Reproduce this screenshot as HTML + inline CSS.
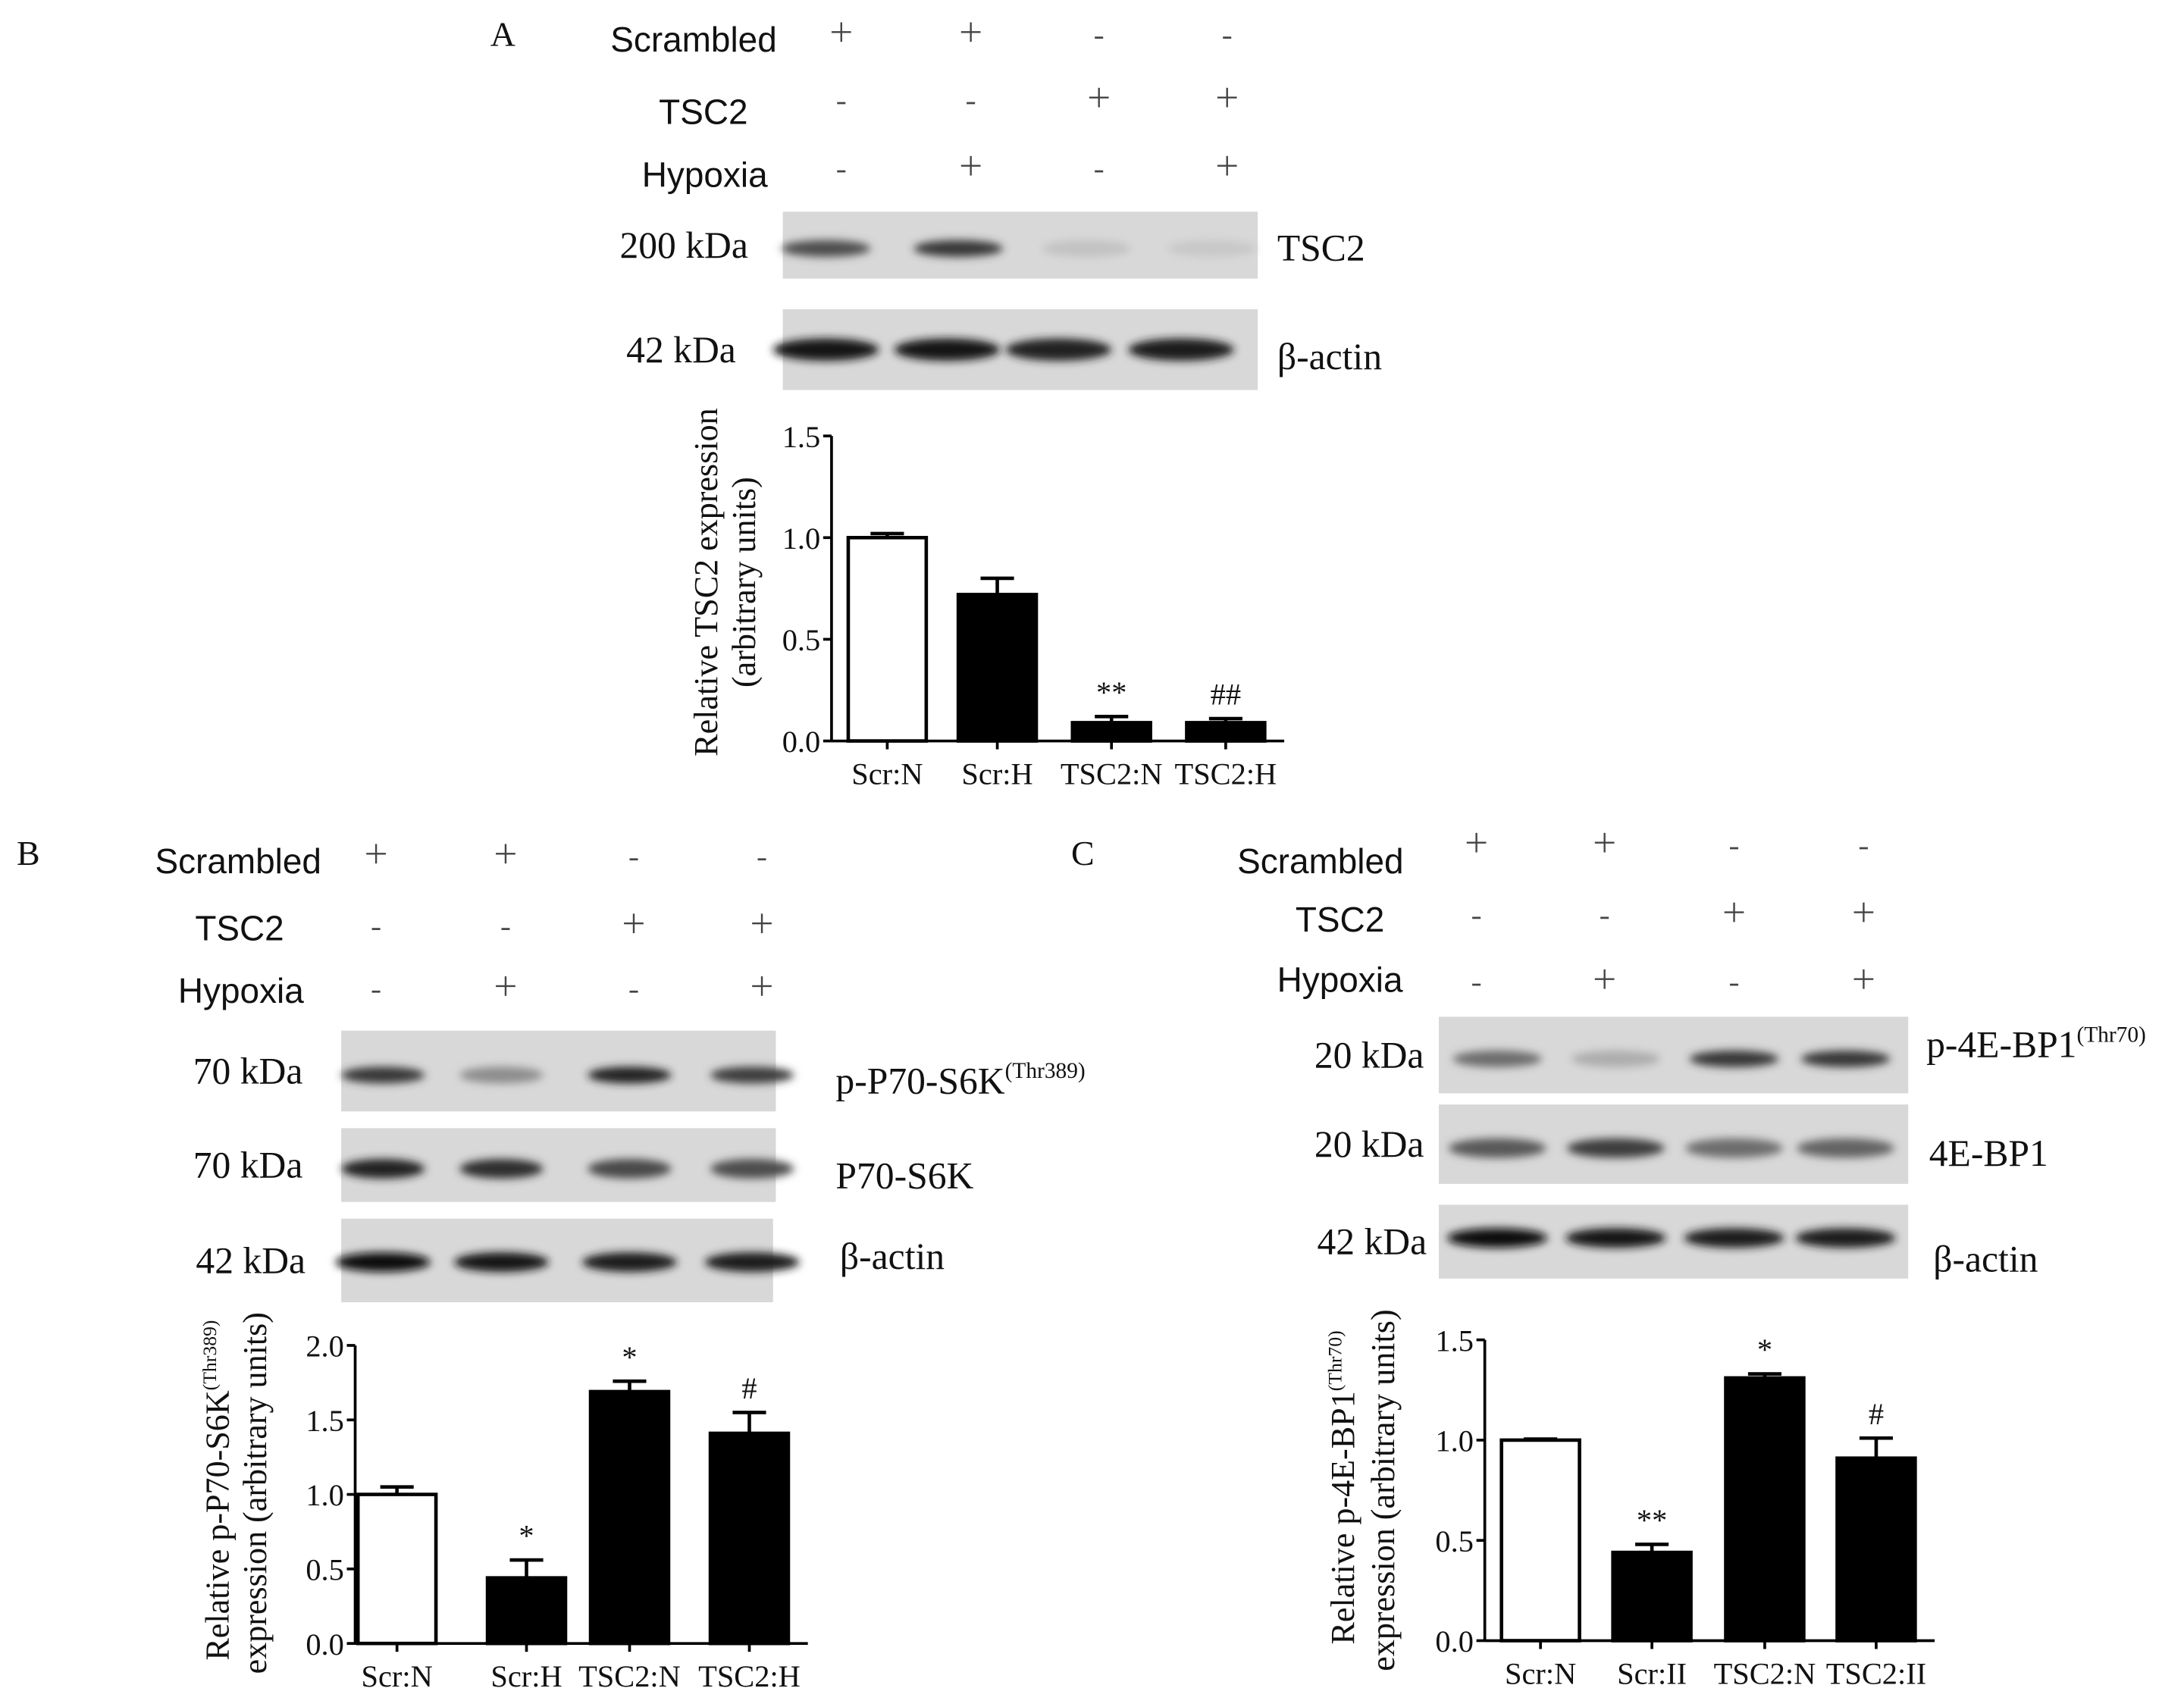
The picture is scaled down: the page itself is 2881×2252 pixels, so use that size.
<!DOCTYPE html>
<html><head><meta charset="utf-8"><style>
html,body{margin:0;padding:0;background:#fff;}
svg{display:block;}
.s{font-family:"Liberation Serif",serif;fill:#111;}
.a{font-family:"Liberation Sans",sans-serif;fill:#111;}
</style></head><body>
<svg id="fig" width="2881" height="2252" viewBox="0 0 1568 1225.6" xmlns="http://www.w3.org/2000/svg">
<defs>
<filter id="bl" x="-20%" y="-100%" width="140%" height="300%"><feGaussianBlur stdDeviation="3"/></filter>
</defs>
<rect width="1568" height="1226" fill="#fff"/>
<g id="root"></g>
</svg>
<script>
// ---- Chart data ----
const catsA = ["Scr:N","Scr:H","TSC2:N","TSC2:H"];
const valsA = [1.0, 0.72, 0.09, 0.09];
const errA = [0.02, 0.08, 0.03, 0.02];
const sigA = ["", "", "**", "##"];
const ticksA = [0.0, 0.5, 1.0, 1.5];

const catsB = ["Scr:N","Scr:H","TSC2:N","TSC2:H"];
const valsB = [1.0, 0.44, 1.69, 1.41];
const errB = [0.05, 0.12, 0.07, 0.14];
const sigB = ["", "*", "*", "#"];
const ticksB = [0.0, 0.5, 1.0, 1.5, 2.0];

const catsC = ["Scr:N","Scr:II","TSC2:N","TSC2:II"];
const valsC = [1.0, 0.44, 1.31, 0.91];
const errC = [0.005, 0.04, 0.02, 0.1];
const sigC = ["", "**", "*", "#"];
const ticksC = [0.0, 0.5, 1.0, 1.5];

const NS = "http://www.w3.org/2000/svg";
const root = document.getElementById("root");
function mk(tag, attrs, parent, text) {
  const e = document.createElementNS(NS, tag);
  for (const k in attrs) e.setAttribute(k, attrs[k]);
  if (text !== undefined) e.textContent = text;
  (parent || root).appendChild(e);
  return e;
}

function header(cfg) {
  const g = mk("g", {});
  
  
  const lab = mk("text", {x: cfg.px, y: cfg.py, class: "s", "font-size": 25}, g, cfg.panel);
  
  
  const rows = ["Scrambled", "TSC2", "Hypoxia"];
  const sym = [["+","+","-","-"],["-","-","+","+"],["-","+","-","+"]];
  rows.forEach((r, i) => {
    const t = mk("text", {x: cfg.lx[i], y: cfg.ry[i] + 9, class: "a", "font-size": 25, "text-anchor": "middle"}, g, r);
    
    
    cfg.cols.forEach((cx, j) => {
      const yy = cfg.ry[i] + cfg.symdy[i];
      if (sym[i][j] === "+") {
        mk("line", {x1: cx - 7, x2: cx + 7, y1: yy, y2: yy, stroke: "#444", "stroke-width": 1.3}, g);
        mk("line", {x1: cx, x2: cx, y1: yy - 7, y2: yy + 7, stroke: "#444", "stroke-width": 1.3}, g);
      } else {
        mk("line", {x1: cx - 3, x2: cx + 3, y1: yy + 4, y2: yy + 4, stroke: "#444", "stroke-width": 1.5}, g);
      }
    });
  });
}

function blot(b) {
  const g = mk("g", {});
  
  
  mk("rect", {x: b.x, y: b.y, width: b.w, height: b.h, fill: "#d8d8d8"}, g);
  b.bands.forEach((v, i) => {
    const cx = b.cols[i];
    const c = Math.round(225 - v * 210);
    mk("ellipse", {cx: cx, cy: b.y + b.h * b.by, rx: b.bw, ry: b.bh, fill: `rgb(${c},${c},${c})`, filter: "url(#bl)"}, g);
  });
  const k = mk("text", {x: b.kx, y: b.y + b.h / 2 + 9, class: "s", "font-size": 27, "text-anchor": "middle"}, g, b.kda);
  
  
  const t = mk("text", {x: b.rx, y: b.ry, class: "s", "font-size": 27}, g);
  
  
  mk("tspan", {}, t, b.label);
  if (b.sup) mk("tspan", {"font-size": 16, dy: -11}, t, b.sup);
}

function chart(c) {
  const g = mk("g", {});
  
  
  const y = v => c.y0 - (v / c.ymax) * (c.y0 - c.y1);
  mk("line", {x1: c.ax, x2: c.ax, y1: c.y1, y2: c.y0, stroke: "#000", "stroke-width": 2}, g);
  mk("line", {x1: c.ax, x2: c.xend, y1: c.y0, y2: c.y0, stroke: "#000", "stroke-width": 2}, g);
  c.ticks.forEach(tv => {
    const ty = y(tv);
    mk("line", {x1: c.ax - 6, x2: c.ax, y1: ty, y2: ty, stroke: "#000", "stroke-width": 2}, g);
    const t = mk("text", {x: c.ax - 8, y: ty + 8, class: "s", "font-size": 22, "text-anchor": "end"}, g, tv.toFixed(1));
    
    
  });
  c.cats.forEach((cat, i) => {
    const cx = c.cx[i];
    const v = c.vals[i], e = c.err[i];
    mk("line", {x1: cx, x2: cx, y1: y(v), y2: y(v + e), stroke: "#000", "stroke-width": 2.5}, g);
    mk("line", {x1: cx - 12, x2: cx + 12, y1: y(v + e), y2: y(v + e), stroke: "#000", "stroke-width": 2.5}, g);
    const r = mk("rect", {x: cx - c.bw / 2, y: y(v), width: c.bw, height: c.y0 - y(v),
      fill: i === 0 ? "#fff" : "#000", stroke: "#000", "stroke-width": 2.5}, g);
    
    
    mk("line", {x1: cx, x2: cx, y1: c.y0, y2: c.y0 + 6, stroke: "#000", "stroke-width": 2}, g);
    const xl = mk("text", {x: cx, y: c.y0 + 31, class: "s", "font-size": 22, "text-anchor": "middle"}, g, cat);
    
    
    if (c.sig[i]) {
      const s = mk("text", {x: cx, y: y(v + e) - 10, class: "s", "font-size": 22, "text-anchor": "middle"}, g, c.sig[i]);
      
      
    }
  });
  const yt = mk("text", {transform: `translate(${c.tx1},${c.tcy}) rotate(-90)`, class: "s", "font-size": 24, "text-anchor": "middle"}, g);
  
  
  mk("tspan", {}, yt, c.t1);
  if (c.t1sup) mk("tspan", {"font-size": 14, dy: -9}, yt, c.t1sup);
  const yt2 = mk("text", {transform: `translate(${c.tx2},${c.tcy2}) rotate(-90)`, class: "s", "font-size": 24, "text-anchor": "middle"}, g, c.t2);
  
  
}

// ---------- Panel A ----------
header({name: "panel-a", panel: "A", px: 352, py: 33, lx: [498, 505, 506], ry: [28, 80, 125], symdy: [-5, -10, -6], cols: [604, 697, 789, 881]});
blot({name: "tsc2-blot-a", x: 562, y: 152, w: 341, h: 48, bands: [0.7, 0.8, 0.15, 0.12], cols: [593, 688, 780, 870], bw: 32, bh: 6, by: 0.55, kx: 491, kda: "200 kDa", label: "TSC2", rx: 917, ry: 187});
blot({name: "actin-blot-a", x: 562, y: 222, w: 341, h: 58, bands: [0.97, 0.97, 0.92, 0.94], cols: [593, 680, 760, 848], bw: 38, bh: 8, by: 0.5, kx: 489, kda: "42 kDa", label: "β-actin", rx: 917, ry: 265});
chart({name: "chart-a", cats: catsA, vals: valsA, err: errA, sig: sigA, ticks: ticksA, ymax: 1.5,
  ax: 597, y0: 532, y1: 313, xend: 922, cx: [637, 716, 798, 880], bw: 56,
  t1: "Relative TSC2 expression", tx1: 515, tcy: 418, t2: "(arbitrary units)", tx2: 542, tcy2: 418});

// ---------- Panel B ----------
header({name: "panel-b", panel: "B", px: 12, py: 621, lx: [171, 172, 173], ry: [618, 666, 711], symdy: [-5, -3, -3], cols: [270, 363, 455, 547]});
const colsB = [275, 360, 452, 540];
blot({name: "p-p70-s6k-blot", x: 245, y: 740, w: 312, h: 58, bands: [0.8, 0.4, 0.9, 0.78], cols: colsB, bw: 30, bh: 6, by: 0.55, kx: 178, kda: "70 kDa", label: "p-P70-S6K", sup: "(Thr389)", rx: 600, ry: 785});
blot({name: "p70-s6k-blot", x: 245, y: 810, w: 312, h: 53, bands: [0.9, 0.85, 0.72, 0.7], cols: colsB, bw: 30, bh: 7, by: 0.55, kx: 178, kda: "70 kDa", label: "P70-S6K", rx: 600, ry: 853});
blot({name: "actin-blot-b", x: 245, y: 875, w: 310, h: 60, bands: [1, 0.97, 0.95, 0.95], cols: colsB, bw: 34, bh: 7, by: 0.52, kx: 180, kda: "42 kDa", label: "β-actin", rx: 603, ry: 911});
chart({name: "chart-b", cats: catsB, vals: valsB, err: errB, sig: sigB, ticks: ticksB, ymax: 2.0,
  ax: 255, y0: 1180, y1: 966, xend: 580, cx: [285, 378, 452, 538], bw: 56,
  t1: "Relative  p-P70-S6K", t1sup: "(Thr389)", tx1: 164, tcy: 1070, t2: "expression (arbitrary units)", tx2: 191, tcy2: 1072});

// ---------- Panel C ----------
header({name: "panel-c", panel: "C", px: 769, py: 621, lx: [948, 962, 962], ry: [618, 660, 703], symdy: [-13, -5, 0], cols: [1060, 1152, 1245, 1338]});
const colsC = [1075, 1160, 1245, 1325];
blot({name: "p-4e-bp1-blot", x: 1033, y: 730, w: 337, h: 55, bands: [0.55, 0.25, 0.8, 0.8], cols: colsC, bw: 32, bh: 6, by: 0.55, kx: 983, kda: "20 kDa", label: "p-4E-BP1", sup: "(Thr70)", rx: 1383, ry: 759});
blot({name: "4e-bp1-blot", x: 1033, y: 793, w: 337, h: 57, bands: [0.65, 0.78, 0.55, 0.6], cols: colsC, bw: 35, bh: 7, by: 0.55, kx: 983, kda: "20 kDa", label: "4E-BP1", rx: 1385, ry: 837});
blot({name: "actin-blot-c", x: 1033, y: 865, w: 337, h: 53, bands: [1, 0.97, 0.93, 0.93], cols: colsC, bw: 36, bh: 7, by: 0.45, kx: 985, kda: "42 kDa", label: "β-actin", rx: 1388, ry: 913});
chart({name: "chart-c", cats: catsC, vals: valsC, err: errC, sig: sigC, ticks: ticksC, ymax: 1.5,
  ax: 1066, y0: 1178, y1: 962, xend: 1389, cx: [1106, 1186, 1267, 1347], bw: 56,
  t1: "Relative p-4E-BP1", t1sup: "(Thr70)", tx1: 972, tcy: 1068, t2: "expression (arbitrary units)", tx2: 1001, tcy2: 1070});
</script>
</body></html>
